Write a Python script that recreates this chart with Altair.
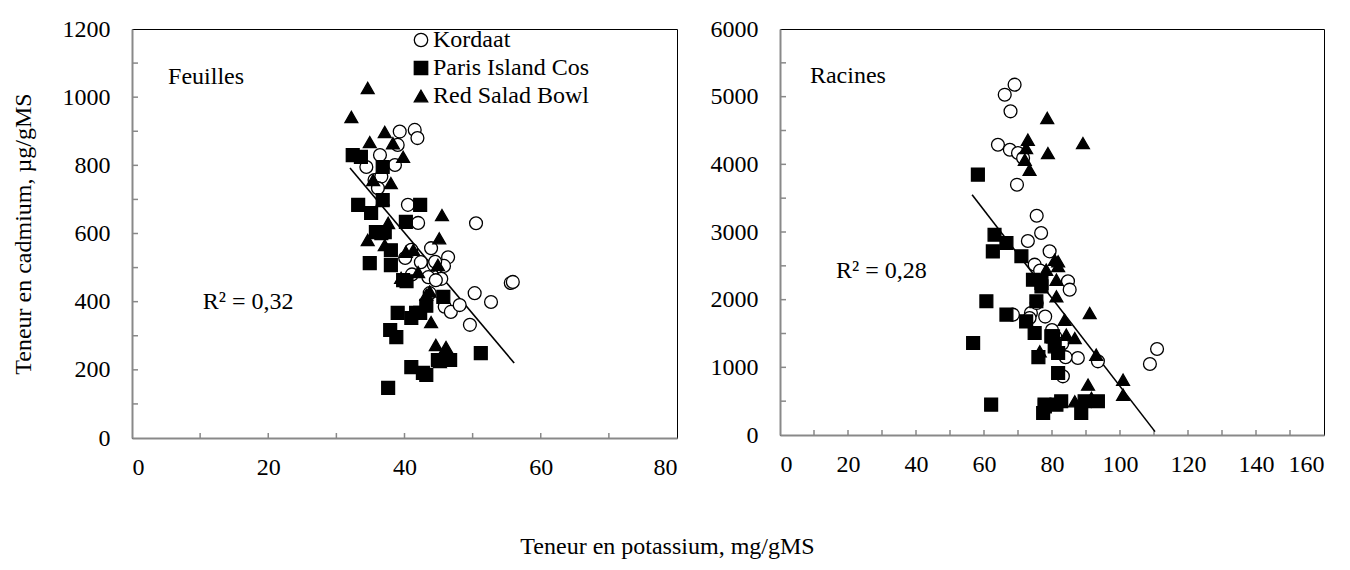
import altair as alt
import pandas as pd

FONT = "Liberation Serif"
FS = 24
GRAY = "#898989"
varieties = ["Kordaat", "Paris Island Cos", "Red Salad Bowl"]

# ---- Feuilles (leaves): K (mg/gMS) vs Cd (µg/gMS)
leaf_kor_k = [39.3, 41.5, 41.9, 39.0, 36.4, 34.4, 38.6, 35.6, 36.6, 36.1, 40.5, 42.0, 41.0, 43.9, 46.4, 44.3,
              45.8, 42.4, 45.4, 43.5, 41.1, 40.1, 43.7, 44.6, 50.3, 52.7, 45.9, 46.8, 48.1, 49.6, 55.6, 55.9, 50.5,
              44.5]
leaf_kor_cd = [899, 904, 880, 860, 830, 795, 801, 757, 767, 733, 684, 631, 552, 557, 530, 508,
               505, 516, 467, 472, 480, 528, 425, 463, 425, 399, 385, 370, 390, 332, 455, 458, 630,
               517]
leaf_pic_k = [32.4, 33.6, 36.8, 33.2, 35.1, 36.8, 35.8, 37.1, 42.3, 40.2, 36.6, 38.0, 34.9, 38.0, 39.8, 39.0,
              41.7, 41.0, 37.9, 38.8, 41.0, 42.7, 37.6, 45.7, 43.2, 42.3, 51.2, 44.9, 46.7, 43.2, 40.3]
leaf_pic_cd = [830, 825, 795, 684, 660, 698, 604, 604, 684, 634, 601, 551, 513, 507, 463, 367,
               367, 352, 317, 296, 208, 191, 147, 414, 388, 367, 249, 229, 229, 185, 460]
leaf_rsb_k = [34.6, 32.2, 37.1, 34.9, 38.3, 39.8, 35.4, 38.0, 37.6, 34.6, 37.1, 40.2, 41.3, 42.0, 43.2, 43.7,
              43.9, 44.6, 46.1, 45.2, 45.5, 45.1, 36.8, 39.5, 44.9]
leaf_rsb_cd = [1027, 942, 898, 868, 865, 825, 757, 748, 631, 581, 566, 546, 552, 487, 420, 430,
               340, 273, 267, 223, 654, 586, 700, 470, 508]
leaf_trend_k = [32.0, 56.1]
leaf_trend_cd = [792, 220]

# ---- Racines (roots)
root_kor_k = [69.0, 66.1, 67.8, 64.1, 67.6, 70.0, 71.5, 69.7, 75.5, 76.8, 72.9, 79.3, 74.9, 73.8, 68.5, 73.4,
              84.7, 85.2, 87.6, 93.5, 83.2, 108.8, 110.9, 76.5, 78.0, 80.0, 81.0, 83.0, 84.0, 75.5]
root_kor_cd = [5177, 5029, 4783, 4290, 4216, 4167, 4093, 3699, 3240, 2985, 2867, 2714, 2517, 1803, 1778, 1729,
               2271, 2148, 1138, 1089, 867, 1049, 1271, 2430, 1750, 1550, 1450, 1350, 1150, 1950]
root_pic_k = [58.2, 63.1, 66.6, 62.6, 71.0, 74.4, 76.9, 60.7, 75.4, 66.6, 72.4, 56.8, 62.1, 74.9, 77.8, 77.4,
              80.3, 81.8, 81.8, 81.3, 76.9, 79.8, 80.8, 77.9, 82.7, 88.6, 93.5, 89.6, 76.0]
root_pic_cd = [3847, 2960, 2837, 2714, 2641, 2295, 2197, 1976, 1976, 1778, 1680, 1360, 448, 1507, 448, 325,
               1458, 1212, 916, 448, 2246, 1458, 1310, 424, 498, 325, 498, 498, 1150]
root_rsb_k = [78.6, 72.9, 72.4, 78.8, 72.0, 73.4, 89.1, 80.8, 78.3, 81.3, 81.3, 81.8, 81.8, 91.1, 83.7, 84.2,
              86.7, 93.0, 100.9, 100.9, 90.6, 86.7, 91.6, 76.4]
root_rsb_cd = [4685, 4364, 4241, 4167, 4069, 3920, 4315, 2590, 2443, 2295, 2049, 2567, 2497, 1803, 1704, 1482,
               1433, 1187, 817, 596, 744, 498, 547, 1237]
root_trend_k = [56.5, 110.3]
root_trend_cd = [3550, 50]

# axis tick values
leaf_x_ticks = [10, 20, 30, 40, 50, 60, 70]
leaf_y_ticks = [100, 200, 300, 400, 500, 600, 700, 800, 900, 1000, 1100]
root_x_ticks = [10, 20, 30, 40, 50, 60, 70, 80, 90, 100, 110, 120, 130, 140, 150]
root_y_ticks = [500, 1000, 1500, 2000, 2500, 3000, 3500, 4000, 4500, 5000, 5500]


def make_df(groups):
    rows = []
    for name, ks, cds in groups:
        for k, c in zip(ks, cds):
            rows.append({"K": k, "Cd": c, "Variete": name})
    return pd.DataFrame(rows)


leaf_df = make_df([(varieties[0], leaf_kor_k, leaf_kor_cd),
                   (varieties[1], leaf_pic_k, leaf_pic_cd),
                   (varieties[2], leaf_rsb_k, leaf_rsb_cd)])
root_df = make_df([(varieties[0], root_kor_k, root_kor_cd),
                   (varieties[1], root_pic_k, root_pic_cd),
                   (varieties[2], root_rsb_k, root_rsb_cd)])


def panel(df, xmax, ymax, xstep, ystep, w, h, trend_k, trend_cd, xt, yt, label, lab_pos, r2, r2_pos,
          show_legend, show_title):
    xscale = alt.Scale(domain=[0, xmax], nice=False, zero=True)
    yscale = alt.Scale(domain=[0, ymax], nice=False, zero=True)
    xaxis = alt.Axis(values=list(range(0, xmax + 1, xstep)), ticks=False, grid=False, title=None,
                     format="d",
                     labelFont=FONT, labelFontSize=FS, labelColor="black", labelPadding=17,
                     domainColor=GRAY, domainWidth=2)
    yaxis = alt.Axis(values=list(range(0, ymax + 1, ystep)), ticks=False, grid=False, format="d",
                     title="Teneur en cadmium, µg/gMS" if show_title else None,
                     titleFont=FONT, titleFontSize=FS, titleFontWeight="normal", titleColor="black",
                     titlePadding=27,
                     labelFont=FONT, labelFontSize=FS, labelColor="black", labelPadding=22,
                     domainColor=GRAY, domainWidth=2)
    if show_legend:
        legend = alt.Legend(title=None, orient="none", legendX=277, legendY=-1, labelFont=FONT,
                            labelFontSize=FS, labelColor="black", symbolSize=180, symbolStrokeWidth=1.3,
                            rowPadding=4, labelOffset=0)
    else:
        legend = None
    pts = alt.Chart(df).mark_point(filled=True, strokeWidth=1.3, opacity=1, size=165).encode(
        x=alt.X("K:Q", scale=xscale, axis=xaxis),
        y=alt.Y("Cd:Q", scale=yscale, axis=yaxis),
        shape=alt.Shape("Variete:N", scale=alt.Scale(domain=varieties,
                                                     range=["circle", "square", "triangle-up"]),
                        legend=legend),
        fill=alt.Fill("Variete:N", scale=alt.Scale(domain=varieties, range=["white", "black", "black"]),
                      legend=legend),
        stroke=alt.Stroke("Variete:N", scale=alt.Scale(domain=varieties, range=["black", "black", "black"]),
                          legend=legend),
    )
    trend = alt.Chart(pd.DataFrame({"K": trend_k, "Cd": trend_cd})).mark_line(
        color="black", strokeWidth=1.6).encode(
        x=alt.X("K:Q", scale=xscale), y=alt.Y("Cd:Q", scale=yscale))
    xt_df = pd.DataFrame({"K": xt})
    yt_df = pd.DataFrame({"Cd": yt})
    xticks = alt.Chart(xt_df).mark_rule(color=GRAY, strokeWidth=1.5).encode(
        x=alt.X("K:Q", scale=xscale), y=alt.value(h), y2=alt.value(h - 5))
    yticks = alt.Chart(yt_df).mark_rule(color=GRAY, strokeWidth=1.5).encode(
        y=alt.Y("Cd:Q", scale=yscale), x=alt.value(0), x2=alt.value(6))
    texts = alt.Chart(pd.DataFrame({"K": [lab_pos[0], r2_pos[0]], "Cd": [lab_pos[1], r2_pos[1]],
                                    "t": [label, r2]})).mark_text(
        align="left", baseline="middle", font=FONT, fontSize=FS, color="black").encode(
        x=alt.X("K:Q", scale=xscale), y=alt.Y("Cd:Q", scale=yscale), text="t:N")
    return alt.layer(yticks, xticks, trend, pts, texts).properties(width=w, height=h)


left = panel(leaf_df, 80, 1200, 20, 200, 545, 409, leaf_trend_k, leaf_trend_cd, leaf_x_ticks, leaf_y_ticks,
             "Feuilles", (5.3, 1060), "R² = 0,32", (10.4, 400), True, True)
right = panel(root_df, 160, 6000, 20, 1000, 544, 406, root_trend_k, root_trend_cd, root_x_ticks, root_y_ticks,
              "Racines", (8.8, 5300), "R² = 0,28", (16.5, 2424), False, False)

chart = alt.hconcat(left, right, spacing=103, bounds="flush").resolve_scale(
    shape="independent", fill="independent", stroke="independent"
).properties(
    title=alt.TitleParams("Teneur en potassium, mg/gMS", orient="bottom", anchor="middle",
                          font=FONT, fontSize=FS, fontWeight="normal", color="black", offset=55),
    padding={"left": 2, "top": 8, "right": 0, "bottom": 0},
).configure_view(stroke="black", strokeWidth=1)

chart.save("out.html", embed_options={"renderer": "svg", "actions": False})
